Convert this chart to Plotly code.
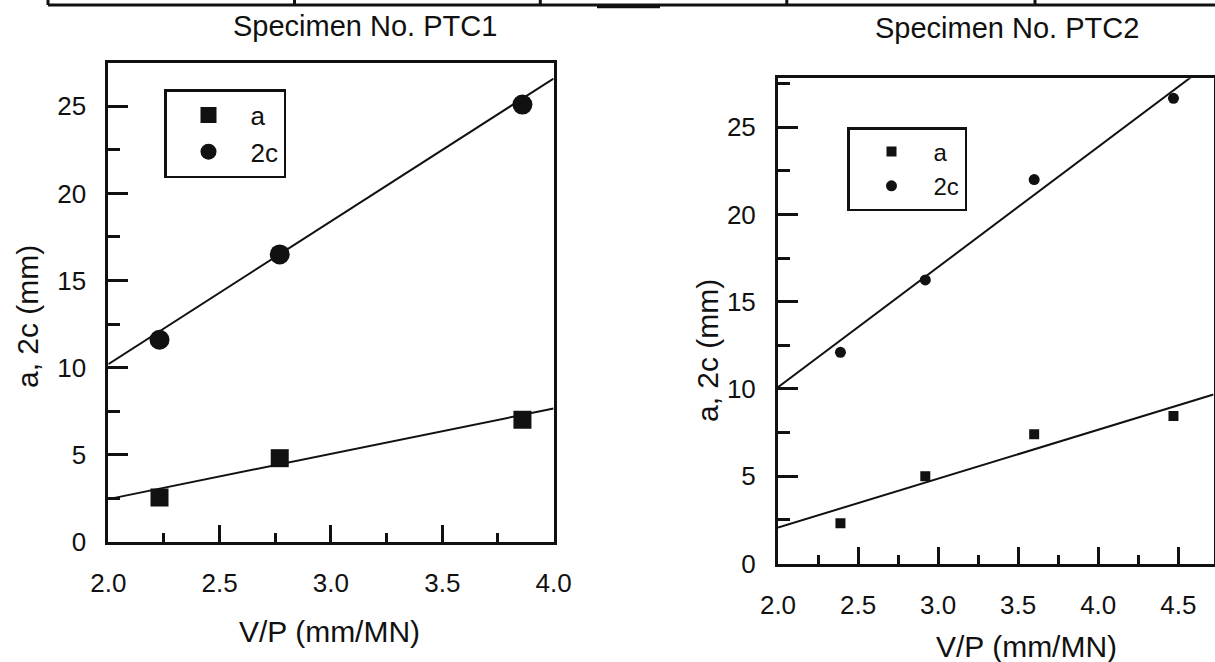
import plotly.graph_objects as go

W, H = 1215, 662

# ---------------- data ----------------
# Specimen PTC1
ptc1_vp = [2.23, 2.77, 3.86]
ptc1_a = [2.55, 4.8, 7.0]
ptc1_2c = [11.6, 16.5, 25.1]
ptc1_fit_vp = [2.0, 4.0]
ptc1_fit_a = [2.45, 7.65]
ptc1_fit_2c = [10.2, 26.6]

# Specimen PTC2
ptc2_vp = [2.39, 2.92, 3.60, 4.47]
ptc2_a = [2.3, 5.0, 7.4, 8.45]
ptc2_2c = [12.1, 16.25, 22.0, 26.65]
ptc2_fit_vp = [2.0, 4.72]
ptc2_fit_a = [2.06, 9.68]
ptc2_fit_2c = [10.1, 28.83]

titles = ["Specimen No. PTC1", "Specimen No. PTC2"]
x_title = "V/P (mm/MN)"
y_title = "a, 2c (mm)"
series_names = ["a", "2c"]

FONT = "Liberation Sans, Arial, Helvetica, sans-serif"
INK = "#111111"

fig = go.Figure()

# ---- PTC1 ----
fig.add_trace(go.Scatter(x=ptc1_fit_vp, y=ptc1_fit_2c, mode="lines",
                         line=dict(color=INK, width=2), showlegend=False,
                         xaxis="x", yaxis="y", hoverinfo="skip"))
fig.add_trace(go.Scatter(x=ptc1_fit_vp, y=ptc1_fit_a, mode="lines",
                         line=dict(color=INK, width=2), showlegend=False,
                         xaxis="x", yaxis="y", hoverinfo="skip"))
fig.add_trace(go.Scatter(x=ptc1_vp, y=ptc1_a, mode="markers", name=series_names[0],
                         marker=dict(symbol="square", size=18, color=INK),
                         xaxis="x", yaxis="y", legend="legend"))
fig.add_trace(go.Scatter(x=ptc1_vp, y=ptc1_2c, mode="markers", name=series_names[1],
                         marker=dict(symbol="circle", size=20, color=INK),
                         xaxis="x", yaxis="y", legend="legend"))

# ---- PTC2 ----
fig.add_trace(go.Scatter(x=ptc2_fit_vp, y=ptc2_fit_2c, mode="lines",
                         line=dict(color=INK, width=2), showlegend=False,
                         xaxis="x2", yaxis="y2", hoverinfo="skip"))
fig.add_trace(go.Scatter(x=ptc2_fit_vp, y=ptc2_fit_a, mode="lines",
                         line=dict(color=INK, width=2), showlegend=False,
                         xaxis="x2", yaxis="y2", hoverinfo="skip"))
fig.add_trace(go.Scatter(x=ptc2_vp, y=ptc2_a, mode="markers", name=series_names[0],
                         marker=dict(symbol="square", size=10, color=INK),
                         xaxis="x2", yaxis="y2", legend="legend2"))
fig.add_trace(go.Scatter(x=ptc2_vp, y=ptc2_2c, mode="markers", name=series_names[1],
                         marker=dict(symbol="circle", size=11, color=INK),
                         xaxis="x2", yaxis="y2", legend="legend2"))


def xax(domain, rng, anchor):
    return dict(domain=domain, range=rng, anchor=anchor, automargin=False,
                tickmode="linear", tick0=2.0, dtick=0.5, tickformat=".1f",
                ticks="inside", ticklen=17, tickwidth=2.5, tickcolor=INK,
                minor=dict(dtick=0.25, tick0=2.0, ticks="inside", ticklen=9,
                           tickwidth=2.5, tickcolor=INK, showgrid=False),
                ticklabelstandoff=16,
                tickfont=dict(family=FONT, size=26, color=INK),
                showline=True, mirror=True, linewidth=3, linecolor=INK,
                showgrid=False, zeroline=False)


def yax(domain, rng, anchor):
    return dict(domain=domain, range=rng, anchor=anchor, automargin=False,
                tickmode="linear", tick0=0, dtick=5,
                ticks="inside", ticklen=20, tickwidth=2.5, tickcolor=INK,
                minor=dict(dtick=2.5, tick0=0, ticks="inside", ticklen=12,
                           tickwidth=2.5, tickcolor=INK, showgrid=False),
                ticklabelstandoff=14,
                tickfont=dict(family=FONT, size=26, color=INK),
                showline=True, mirror=True, linewidth=3, linecolor=INK,
                showgrid=False, zeroline=False)


def legend_at(px, py, fs):
    return dict(x=px / W, y=1 - py / H, xanchor="left", yanchor="top",
                bordercolor=INK, borderwidth=2.5, bgcolor="white",
                font=dict(family=FONT, size=fs, color=INK),
                itemwidth=74, tracegroupgap=0, traceorder="normal")


# top table remnants (decoration of the scanned page)
shapes = [dict(type="line", xref="paper", yref="paper",
               x0=48 / W, x1=1.0, y0=1 - 5 / H, y1=1 - 5 / H,
               line=dict(color=INK, width=3))]
for vx in [48, 294.5, 540.3, 786.8, 1035]:
    shapes.append(dict(type="line", xref="paper", yref="paper",
                       x0=vx / W, x1=vx / W, y0=1.0, y1=1 - 5 / H,
                       line=dict(color=INK, width=3)))
shapes.append(dict(type="line", xref="paper", yref="paper",
                   x0=597 / W, x1=660 / W, y0=1 - 7 / H, y1=1 - 7 / H,
                   line=dict(color=INK, width=2.5)))


def label(text, px, py, size, angle=0):
    return dict(text=text, x=px / W, y=1 - py / H, xref="paper", yref="paper",
                xanchor="center", yanchor="middle", showarrow=False,
                textangle=angle, font=dict(family=FONT, size=size, color=INK))


annotations = [
    label(titles[0], 365, 26, 29),
    label(titles[1], 1007, 28, 29),
    label(x_title, 329, 631, 30),
    label(x_title, 1026, 646, 30),
    label(y_title, 27, 317, 30, -90),
    label(y_title, 707, 351, 30, -90),
]

fig.update_layout(
    template="none",
    width=W, height=H, autosize=False,
    margin=dict(l=0, r=0, t=0, b=0, pad=0),
    paper_bgcolor="white", plot_bgcolor="white",
    font=dict(family=FONT, color=INK),
    xaxis=xax([108.3 / W, 553.6 / W], [2.0, 4.0], "y"),
    yaxis=yax([1 - 541.8 / H, 1 - 62.8 / H], [0, 27.5], "x"),
    xaxis2=xax([778.0 / W, 1213.5 / W], [2.0, 4.72], "y2"),
    yaxis2=yax([1 - 563.5 / H, 1 - 78.3 / H], [0, 27.8], "x2"),
    legend=legend_at(164, 89, 26),
    legend2=legend_at(847, 127, 24),
    shapes=shapes,
    annotations=annotations,
    showlegend=True,
)

fig.write_html("out.html", config={"displayModeBar": False},
               post_script="document.body.style.margin='0';document.body.style.overflow='hidden';")
